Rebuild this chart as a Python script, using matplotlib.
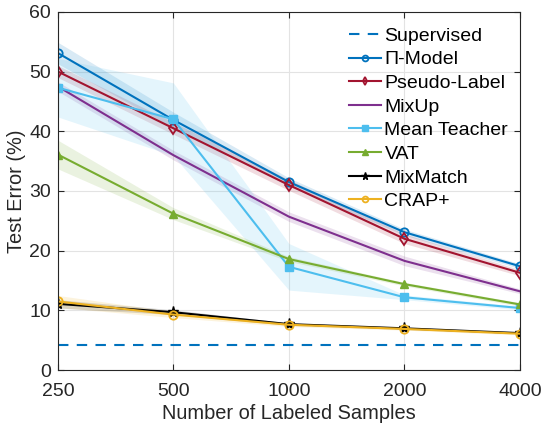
import matplotlib
matplotlib.use("Agg")
import matplotlib.pyplot as plt
import numpy as np

plt.rcParams['font.family'] = ['Liberation Sans', 'DejaVu Sans']

samples = [250, 500, 1000, 2000, 4000]
tick_labels = ['250', '500', '1000', '2000', '4000']

supervised = 4.2
pi_model = [53.1, 41.9, 31.5, 23.1, 17.4]
pi_model_std = [1.8, 1.3, 0.7, 0.5, 0.4]
pseudo_label = [50.0, 40.5, 31.0, 22.0, 16.3]
pseudo_label_std = [1.0, 1.0, 0.9, 0.8, 0.5]
mixup = [47.5, 36.0, 25.7, 18.3, 13.2]
mixup_std = [0.8, 0.8, 0.8, 0.8, 0.4]
mean_teacher = [47.3, 42.0, 17.3, 12.2, 10.4]
mean_teacher_std = [4.9, 6.1, 3.9, 0.4, 0.3]
vat = [36.1, 26.2, 18.6, 14.4, 11.0]
vat_std = [2.4, 1.0, 0.4, 0.3, 0.3]
mixmatch = [11.1, 9.7, 7.7, 7.0, 6.2]
mixmatch_std = [0.7, 0.4, 0.2, 0.2, 0.1]
crap = [11.5, 9.3, 7.6, 6.9, 6.1]
crap_std = [1.0, 0.5, 0.3, 0.2, 0.2]

fig = plt.figure(figsize=(5.41, 4.23), dpi=100)
ax = fig.add_axes([0.107, 0.125, 0.854, 0.847])

series = [
    ('Π-Model', pi_model, pi_model_std, '#0072BD', 'o', 'none'),
    ('Pseudo-Label', pseudo_label, pseudo_label_std, '#A2142F', 'd', 'none'),
    ('MixUp', mixup, mixup_std, '#7E2F8E', None, 'none'),
    ('Mean Teacher', mean_teacher, mean_teacher_std, '#4DBEEE', 's', 'full'),
    ('VAT', vat, vat_std, '#77AC30', '^', 'full'),
    ('MixMatch', mixmatch, mixmatch_std, '#000000', '*', 'full'),
    ('CRAP+', crap, crap_std, '#EDB120', 'o', 'none'),
]

x = np.array(samples)
ax.plot([samples[0], samples[-1]], [supervised, supervised], '--', color='#0072BD',
        lw=1.5, dashes=(5, 4), label='Supervised')
for name, vals, std, col, mk, fill in series:
    v = np.array(vals); s = np.array(std)
    ax.fill_between(x, v - s, v + s, color=col, alpha=0.15, lw=0)
    kw = dict(color=col, lw=1.5, label=name)
    if mk is not None:
        kw.update(marker=mk, markersize=6 if mk != '*' else 8)
        if fill == 'none':
            kw.update(markerfacecolor='none', markeredgewidth=1.3)
        else:
            kw.update(markerfacecolor=col, markeredgecolor=col)
    ax.plot(x, v, **kw)

ax.set_xscale('log', base=2)
ax.set_xlim(250, 4000)
ax.set_ylim(0, 60)
ax.set_xticks(samples)
ax.set_xticklabels(tick_labels)
ax.minorticks_off()
ax.set_yticks([0, 10, 20, 30, 40, 50, 60])
ax.tick_params(direction='in', labelsize=14, top=True, right=True, length=4,
               color='#262626', labelcolor='#262626')
ax.tick_params(axis='x', pad=9)
ax.tick_params(axis='y', pad=5)
ax.grid(True, color='#e3e3e3', lw=0.8)
ax.set_axisbelow(True)
for sp in ax.spines.values():
    sp.set_color('#262626')
    sp.set_linewidth(0.8)
ax.set_xlabel('Number of Labeled Samples', fontsize=14.4, color='#262626', labelpad=3)
ax.set_ylabel('Test Error (%)', fontsize=14.4, color='#262626', labelpad=2)

leg = ax.legend(loc='upper right', frameon=False, fontsize=14, handlelength=1.65,
                handletextpad=0.2, labelspacing=0.31, borderaxespad=0.2,
                bbox_to_anchor=(1.0, 0.99), markerscale=0.7)

fig.savefig('out.png', dpi=100)
